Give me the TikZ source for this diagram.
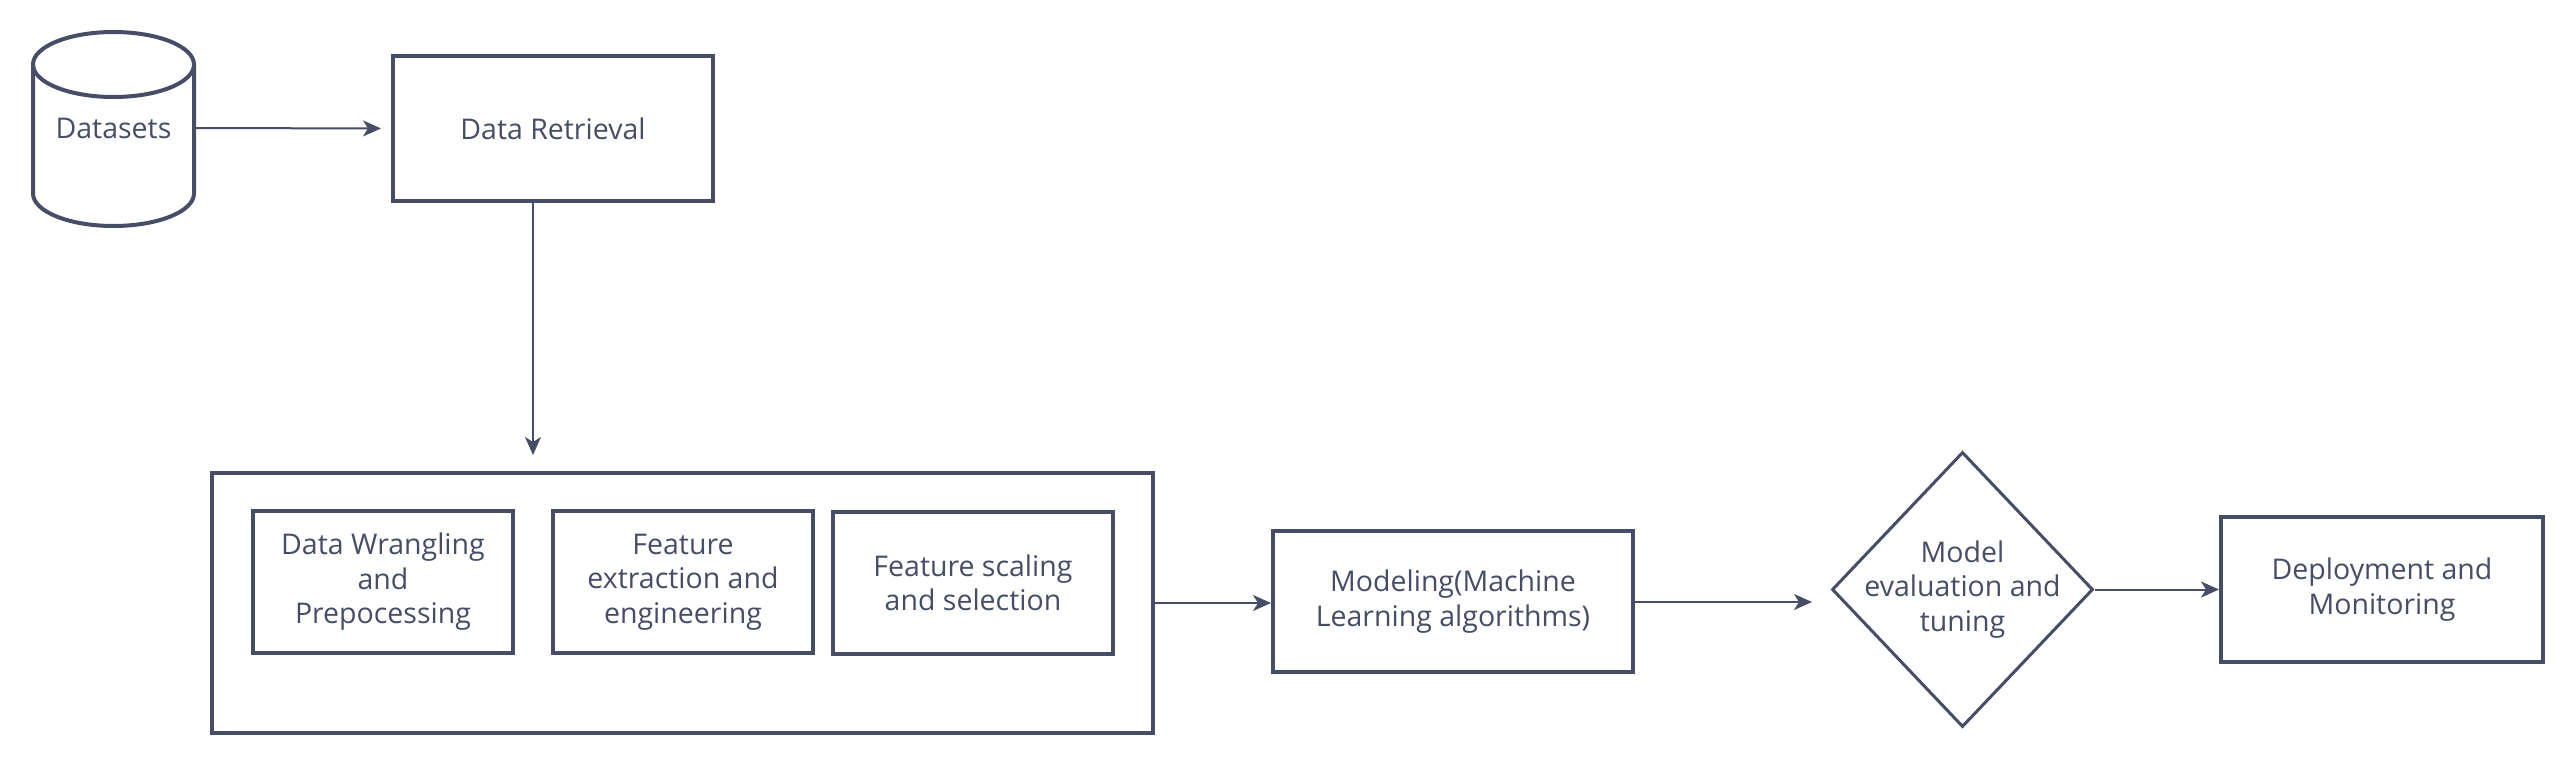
\documentclass[tikz,border=0pt]{standalone}
\usepackage{fontspec}
\setmainfont{Open Sans}
\usetikzlibrary{arrows.meta,shapes.geometric}
\definecolor{cl}{HTML}{474D66}
\begin{document}
\begin{tikzpicture}[x=1pt,y=-1pt,
  lbl/.style={text=cl,align=center,font=\fontsize{28.5}{34.5}\selectfont},
  box/.style={draw=cl,line width=4pt,inner sep=0pt,lbl},
  conn/.style={draw=cl,line width=2pt,-{Stealth[length=18pt,width=16pt,inset=5pt]}}]
\useasboundingbox[fill=white] (0,0) rectangle (2576,766);
% cylinder
\draw[cl,line width=4pt] (33,64.5) -- (33,193.5) arc[start angle=180,end angle=0,x radius=80.5,y radius=32.5] -- (194,64.5);
\draw[cl,line width=4pt] (113.5,64.5) ellipse[x radius=80.5,y radius=32.5];
\node[lbl,minimum width=161pt,minimum height=60pt,inner sep=0pt] (ds) at (113.5,128) {Datasets};
% boxes
\node[box,minimum width=320pt,minimum height=145pt] (dr) at (553,128.5) {Data Retrieval};
\node[box,minimum width=941pt,minimum height=260pt] (outer) at (682.5,603) {};
\node[box,minimum width=260pt,minimum height=142pt] (b1) at (383,582) {Data Wrangling\\and\\Prepocessing};
\node[box,minimum width=260pt,minimum height=142pt] (b2) at (683,582) {Feature\\extraction and\\engineering};
\node[box,minimum width=280pt,minimum height=142pt] (b3) at (973,583) {Feature scaling\\and selection};
\node[box,minimum width=360pt,minimum height=141pt] (mod) at (1453,601.5) {Modeling(Machine\\Learning algorithms)};
\node[diamond,draw=cl,line width=3pt,minimum width=261pt,minimum height=275pt,inner sep=0pt] (dia) at (1962.5,589.5) {};
\node[lbl] (diat) at (dia.center) {Model\\evaluation and\\tuning};
\node[box,minimum width=322pt,minimum height=145pt] (dep) at (2382,589.5) {Deployment and\\Monitoring};
% connectors
\coordinate (t1) at (533,455);
\coordinate (t2) at (1812,602);
\draw[conn,shorten >=10pt] (ds.east) -- (dr.west);
\draw[conn] (dr.south -| t1) -- (t1);
\draw[conn] (outer.east) -- (outer.east -| mod.west);
\draw[conn] (mod.east |- t2) -- (t2);
\draw[conn] (dia.east) -- (dia.east -| dep.west);
\end{tikzpicture}
\end{document}
